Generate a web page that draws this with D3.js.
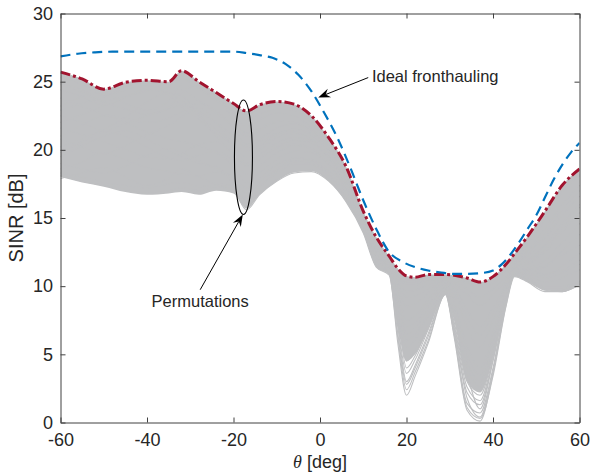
<!DOCTYPE html>
<html>
<head>
<meta charset="utf-8">
<script src="https://cdn.jsdelivr.net/npm/d3@7"></script>
<style>
body { margin: 0; background: #fff; }
text { font-family: "Liberation Sans", Arial, Helvetica, sans-serif; fill: #262626; }
</style>
</head>
<body>
<svg id="chart" width="590" height="475"></svg>
<script>
var theta = [-60,-55,-50,-45,-40,-35,-32,-28,-24,-20,-17,-14,-10,-6,-2,2,6,10,13,16,18,20,22,25,29,31,34,37,40,43,45,48,52,56,60];

// best permutation (red dash-dot) = top of the grey bundle
var best_sinr = [25.7,25.2,24.45,24.95,25.1,25.0,25.8,25.0,24.2,23.4,22.85,23.3,23.55,23.35,22.5,20.9,18.8,15.5,13.6,12.2,11.3,10.75,10.65,10.85,10.85,10.8,10.6,10.3,10.7,11.6,12.4,13.65,15.5,17.4,18.6];
// bottom of the dense part of the bundle
var band_lower = [18.0,17.6,17.3,16.9,16.7,16.8,16.9,16.7,17.0,16.8,15.7,16.7,17.7,18.35,18.45,17.7,16.2,13.9,11.4,10.8,7.0,4.5,5.0,6.8,9.4,7.5,3.0,2.2,4.8,9.0,10.7,10.3,9.7,9.6,10.1];

// some individual permutations
var permutations = [
  [24.8,24.2,23.6,23.9,24.3,24.6,25.2,24.5,23.6,22.9,22.6,23.0,23.3,23.0,22.0,20.3,18.2,15.0,13.2,11.8,10.9,10.5,10.5,10.7,10.7,10.6,10.4,10.2,10.5,11.3,12.0,13.4,15.2,17.0,18.2],
  [19.5,20.3,21.0,21.4,20.8,19.9,19.5,19.0,18.8,17.5,16.2,17.2,18.5,19.3,19.2,18.3,16.6,14.2,11.8,11.0,5.8,2.0,3.4,5.8,9.4,6.3,0.9,0.1,3.6,8.6,10.8,10.6,10.0,10.0,10.3],
  [21.0,21.8,22.5,22.0,21.3,20.8,20.6,20.3,19.8,18.8,17.6,18.3,19.3,19.9,19.8,18.9,17.1,14.6,12.2,11.1,6.5,2.8,4.0,6.3,9.5,6.6,1.4,0.7,4.0,8.9,10.9,10.5,9.8,9.7,10.1],
  [22.5,22.0,21.4,21.9,22.5,23.0,23.3,22.5,21.5,20.3,19.5,20.0,20.9,21.2,20.8,19.6,17.7,15.0,12.6,11.2,7.2,3.6,4.6,6.8,9.6,7.0,2.2,1.3,4.6,9.1,11.0,10.9,10.6,11.0,11.6],
  [18.1,17.7,17.4,17.1,16.8,17.0,17.2,17.0,17.3,16.9,15.8,16.8,17.8,18.4,18.5,17.8,16.3,14.0,11.5,10.9,7.8,4.5,5.3,7.2,9.7,7.4,3.0,2.0,5.0,9.2,10.8,10.4,9.7,9.6,10.2],
  [23.8,23.2,22.6,22.3,22.0,22.3,22.8,23.4,22.9,21.6,20.4,20.8,21.6,21.9,21.4,20.1,18.0,15.2,12.8,11.4,8.4,5.5,6.1,7.8,9.9,7.8,3.6,1.0,4.5,9.0,11.1,11.2,11.5,12.3,13.0],
  [20.2,20.8,21.5,22.4,23.5,24.2,24.0,22.6,21.0,19.6,18.8,19.3,20.2,20.7,20.5,19.4,17.5,14.9,12.4,11.2,9.0,6.5,6.9,8.4,10.0,8.3,4.5,3.0,5.8,9.4,11.0,11.0,11.4,12.6,13.8],
  [24.9,24.4,23.5,23.0,22.6,23.1,24.2,24.8,23.9,22.6,21.7,22.2,22.7,22.5,21.6,20.1,18.0,15.0,12.8,11.5,9.6,7.5,7.8,9.0,10.2,8.9,5.6,4.0,6.6,9.7,11.2,11.6,12.5,14.0,15.4],
  [19.0,18.6,18.3,18.8,19.6,20.1,19.8,19.2,18.6,18.0,17.2,17.9,18.9,19.4,19.3,18.5,16.9,14.5,12.0,11.1,9.9,8.5,8.7,9.5,10.3,9.4,7.0,5.5,7.5,9.9,11.3,11.9,13.0,14.6,16.0],
  [22.0,22.6,23.2,23.8,24.4,24.2,23.6,22.8,22.0,21.0,20.2,20.6,21.2,21.3,20.7,19.5,17.6,14.9,12.6,11.4,10.4,9.6,9.7,10.1,10.5,10.0,8.3,7.0,8.4,10.2,11.6,12.6,14.2,16.0,17.4],
  [17.9,18.3,18.7,18.0,17.4,17.9,18.6,18.0,17.5,17.4,16.4,17.3,18.3,18.9,18.9,18.1,16.6,14.2,11.7,11.0,10.6,10.3,10.3,10.4,10.5,10.2,9.4,8.6,9.4,10.4,11.2,10.5,9.8,9.8,10.4],
  [25.3,24.8,24.0,24.4,24.7,24.5,25.4,24.6,23.8,22.8,22.2,22.6,23.0,22.9,22.0,20.5,18.4,15.2,13.2,11.9,11.0,10.6,10.6,10.7,10.7,10.6,10.3,10.0,10.4,11.2,11.8,13.0,14.9,16.9,18.1],
  [20.8,20.2,19.7,20.3,21.1,21.8,22.4,23.1,22.0,20.3,19.0,19.6,20.5,20.9,20.6,19.5,17.5,14.8,12.3,11.1,8.0,4.0,4.9,7.0,9.6,7.2,2.6,1.6,4.8,9.1,10.9,11.0,10.8,11.5,12.4],
  [23.2,23.9,24.2,23.4,22.9,23.6,24.8,24.8,24.0,22.2,21.2,21.6,22.1,22.0,21.3,19.9,17.9,15.1,12.9,11.6,10.8,10.4,10.4,10.6,10.6,10.5,10.2,9.8,10.2,11.0,11.6,12.4,13.8,15.6,17.0],
  [18.6,19.1,19.8,19.3,18.7,18.4,18.2,18.1,18.4,17.8,16.8,17.6,18.6,19.1,19.0,18.2,16.7,14.3,11.9,11.0,8.9,6.0,6.5,8.0,9.8,7.9,4.1,2.6,5.4,9.3,11.0,11.1,10.9,11.2,11.9],
  [21.6,21.1,20.6,20.0,19.5,19.3,19.7,20.4,20.6,19.8,18.9,19.4,20.1,20.4,20.1,19.0,17.2,14.7,12.2,11.1,10.2,9.2,9.3,9.8,10.4,9.7,7.7,6.4,8.0,10.0,11.4,12.2,13.5,15.2,16.6],
  [24.4,23.9,23.3,23.9,24.5,24.0,23.2,22.2,21.2,20.4,19.9,20.3,21.1,21.5,21.1,19.9,17.9,15.1,12.7,11.4,7.0,3.0,4.2,6.5,9.5,6.8,1.8,0.4,3.8,8.8,10.9,10.7,10.3,10.6,11.2],
  [19.8,20.6,21.3,21.0,20.2,19.4,19.2,19.6,19.9,19.2,18.2,18.8,19.8,20.3,20.1,19.1,17.3,14.7,12.3,11.2,9.3,7.0,7.3,8.7,10.1,8.6,5.0,3.5,6.2,9.5,11.1,11.3,11.9,13.2,14.6],
  [22.9,23.4,23.9,24.6,25.0,24.8,24.4,23.6,22.7,21.7,21.0,21.4,22.0,22.0,21.3,19.9,17.9,15.1,12.9,11.6,10.6,10.1,10.1,10.4,10.6,10.4,9.8,9.2,9.8,10.7,11.4,11.8,12.7,14.3,15.8],
  [18.3,18.0,17.6,17.4,17.2,17.5,17.6,17.3,17.4,17.0,15.6,16.7,17.7,18.3,18.4,17.7,16.2,13.9,11.4,10.8,6.2,2.4,3.7,6.0,9.4,6.5,1.1,0.3,3.4,8.5,10.7,10.3,9.6,9.6,10.1]
];

// ideal fronthauling (blue dashed)
var ideal_theta = [-60,-56,-52,-48,-44,-40,-36,-32,-28,-24,-20,-17,-14,-11,-8,-5,-2,1,4,7,10,13,16,19,22,25,28,31,34,37,40,42,44,46,48,50,52,54,56,58,60];
var ideal_sinr = [26.85,27.05,27.15,27.2,27.2,27.2,27.2,27.2,27.2,27.2,27.2,27.1,26.95,26.75,26.3,25.5,24.3,22.7,20.9,18.7,16.3,14.2,12.5,11.8,11.4,11.15,11.0,10.9,10.9,10.95,11.15,11.6,12.3,13.2,14.2,15.2,16.5,17.8,18.9,19.8,20.5];

var x_ticks = [-60, -40, -20, 0, 20, 40, 60];
var y_ticks = [0, 5, 10, 15, 20, 25, 30];

var svg = d3.select("#chart");
var m = { left: 60.5, right: 579.5, top: 13.5, bottom: 422.5 };

var x = d3.scaleLinear().domain([-60, 60]).range([m.left, m.right]);
var y = d3.scaleLinear().domain([0, 30]).range([m.bottom, m.top]);

var grey = "#bebfc1";

svg.append("defs").append("clipPath").attr("id", "plot-clip")
    .append("rect")
    .attr("x", m.left).attr("y", m.top)
    .attr("width", m.right - m.left).attr("height", m.bottom - m.top);

var plot = svg.append("g").attr("clip-path", "url(#plot-clip)");

// dense grey bundle
var band = d3.area()
    .x(function (d, i) { return x(theta[i]); })
    .y0(function (d, i) { return y(band_lower[i]); })
    .y1(function (d) { return y(d); })
    .curve(d3.curveMonotoneX);
plot.append("path").datum(best_sinr)
    .attr("d", band)
    .attr("fill", grey);

var perm_line = d3.line()
    .x(function (d, i) { return x(theta[i]); })
    .y(function (d) { return y(d); })
    .curve(d3.curveMonotoneX);

plot.selectAll(".perm").data(permutations).enter()
    .append("path")
    .attr("class", "perm")
    .attr("d", perm_line)
    .attr("fill", "none")
    .attr("stroke", grey)
    .attr("stroke-width", 1.1);

// best permutation
plot.append("path").datum(best_sinr)
    .attr("d", perm_line)
    .attr("fill", "none")
    .attr("stroke", "#a2142f")
    .attr("stroke-width", 3)
    .attr("stroke-dasharray", "10,3,3,3");

// ideal fronthauling
var ideal_line = d3.line()
    .x(function (d, i) { return x(ideal_theta[i]); })
    .y(function (d) { return y(d); })
    .curve(d3.curveMonotoneX);
plot.append("path").datum(ideal_sinr)
    .attr("d", ideal_line)
    .attr("fill", "none")
    .attr("stroke", "#0072bd")
    .attr("stroke-width", 2.2)
    .attr("stroke-dasharray", "10,6");

// ellipse round the permutations
svg.append("ellipse")
    .attr("cx", x(-17.7)).attr("cy", y(19.46))
    .attr("rx", x(-17.7 + 2.08) - x(-17.7))
    .attr("ry", y(19.46 - 4.2) - y(19.46))
    .attr("fill", "none")
    .attr("stroke", "#000")
    .attr("stroke-width", 1.1);

function arrow(x1, y1, x2, y2) {
    var a = Math.atan2(y2 - y1, x2 - x1);
    var len = 12, w = 4.5, notch = 8;
    var ca = Math.cos(a), sa = Math.sin(a);
    var bx = x2 - len * ca, by = y2 - len * sa;
    var nx = x2 - notch * ca, ny = y2 - notch * sa;
    svg.append("line")
        .attr("x1", x1).attr("y1", y1).attr("x2", nx).attr("y2", ny)
        .attr("stroke", "#000").attr("stroke-width", 1);
    svg.append("path")
        .attr("d", `M${x2},${y2}L${bx - w * sa},${by + w * ca}L${nx},${ny}L${bx + w * sa},${by - w * ca}Z`)
        .attr("fill", "#000");
}

arrow(x(11.15), y(25.3), x(-0.4), y(23.84));
arrow(x(-27.7), y(9.74), x(-17.85), y(15.26));

svg.append("text")
    .attr("x", x(12.0)).attr("y", y(24.95))
    .style("font-size", "16.5px")
    .text("Ideal fronthauling");

svg.append("text")
    .attr("x", x(-27.7)).attr("y", y(8.49))
    .attr("text-anchor", "middle")
    .style("font-size", "16.5px")
    .text("Permutations");

// axes
function plain(d) { return String(d); }

function style_axis(g) {
    g.selectAll("path").attr("stroke", "#404040");
    g.selectAll("line").attr("stroke", "#404040");
    g.selectAll("text").style("font-size", "18px").attr("fill", "#262626")
        .style("font-family", '"Liberation Sans", Arial, Helvetica, sans-serif');
}

svg.append("g")
    .attr("transform", `translate(0,${m.bottom})`)
    .call(d3.axisBottom(x).tickValues(x_ticks).tickFormat(plain).tickSizeInner(-5).tickSizeOuter(0).tickPadding(11))
    .call(style_axis);

svg.append("g")
    .attr("transform", `translate(${m.left},0)`)
    .call(d3.axisLeft(y).tickValues(y_ticks).tickFormat(plain).tickSizeInner(-5).tickSizeOuter(0).tickPadding(7.5))
    .call(style_axis);

svg.append("g")
    .attr("transform", `translate(0,${m.top})`)
    .call(d3.axisTop(x).tickValues(x_ticks).tickSizeInner(-5).tickSizeOuter(0).tickFormat(""))
    .call(style_axis);

svg.append("g")
    .attr("transform", `translate(${m.right},0)`)
    .call(d3.axisRight(y).tickValues(y_ticks).tickSizeInner(-5).tickSizeOuter(0).tickFormat(""))
    .call(style_axis);

// axis labels
svg.append("text")
    .attr("transform", `translate(22.5,${(m.top + m.bottom) / 2}) rotate(-90)`)
    .attr("text-anchor", "middle")
    .style("font-size", "20px")
    .text("SINR [dB]");

var xl = svg.append("text")
    .attr("x", (m.left + m.right) / 2).attr("y", 468)
    .attr("text-anchor", "middle")
    .style("font-size", "18px");
xl.append("tspan")
    .style("font-family", '"Liberation Serif", "DejaVu Serif", serif')
    .style("font-style", "italic")
    .text("θ");
xl.append("tspan").text(" [deg]");
</script>
</body>
</html>
